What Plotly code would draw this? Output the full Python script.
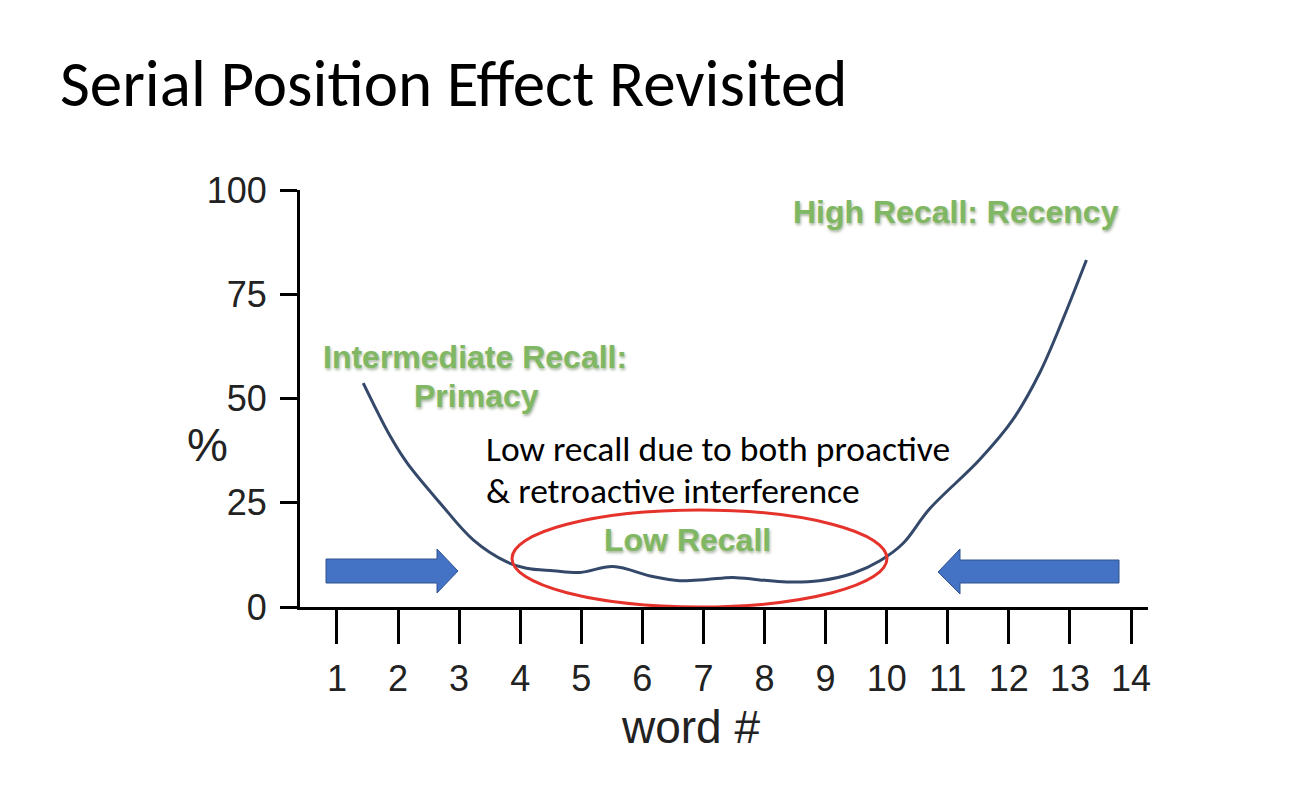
import plotly.graph_objects as go

# ---- data ----
word_pos = [1.43, 1.87, 2.15, 2.69, 3.23, 3.78, 4.1, 4.54, 4.98, 5.52, 6.17, 6.61,
            7.05, 7.48, 7.92, 8.36, 8.9, 9.45, 9.89, 10.27, 10.7, 11.52, 12.06, 12.5, 12.88, 13.27]
recall_pct = [53.7, 41.0, 34.5, 24.9, 16.1, 10.8, 9.3, 8.7, 8.3, 9.7, 7.3, 6.3,
              6.6, 7.1, 6.5, 6.0, 6.3, 8.1, 11.1, 15.3, 23.5, 35.3, 44.8, 56.0, 68.8, 83.2]
x_ticks = list(range(1, 15))
y_ticks = [0, 25, 50, 75, 100]

W, H = 1302, 792
L, R, T, B = 300, 1148, 190, 607   # plot area in pixels
XMIN = 1 - (337 - L) / 61.1
XMAX = 14 + (R - 1131) / 61.1


def dx(px):
    return XMIN + (px - L) / (R - L) * (XMAX - XMIN)


def dy(py):
    return (B - py) / (B - T) * 100


def px_(x):
    return (x - L) / (R - L)


def py_(y):
    return (B - y) / (B - T)


fig = go.Figure()
fig.add_trace(go.Scatter(
    x=word_pos, y=recall_pct, mode="lines",
    line=dict(color="#34486a", width=3, shape="spline"),
    hoverinfo="skip", showlegend=False, cliponaxis=False,
))

shapes = []
# red ellipse
shapes.append(dict(type="circle", xref="x", yref="y",
                   x0=dx(512), x1=dx(887), y0=dy(607), y1=dy(510),
                   line=dict(color="#e5322b", width=3), fillcolor="rgba(0,0,0,0)"))


def arrow_path(points):
    pts = [f"{dx(a)},{dy(b)}" for a, b in points]
    return "M " + " L ".join(pts) + " Z"


right_arrow = [(326, 559), (437, 559), (437, 549), (458, 571), (437, 593), (437, 583), (326, 583)]
left_arrow = [(1119, 560), (960, 560), (960, 549), (938, 572), (960, 594), (960, 583), (1119, 583)]
for pts in (right_arrow, left_arrow):
    shapes.append(dict(type="path", xref="x", yref="y", path=arrow_path(pts),
                       fillcolor="#4472C4", line=dict(color="#2F528F", width=1)))

green = "#80b763"
gfont = dict(family="Liberation Sans, Arial", size=32, color=green,
             weight="bold", shadow="1px 2px 3px rgba(60,90,40,0.45)")
annotations = []


def add_text(text, x, y, font, xanchor="center"):
    annotations.append(dict(text=text, x=px_(x), y=py_(y), xref="paper", yref="paper",
                            xanchor=xanchor, yanchor="middle", showarrow=False, font=font))


add_text("High Recall: Recency", 956, 212, gfont)
add_text("Intermediate Recall:", 475, 357, gfont)
add_text("Primacy", 476, 396, gfont)
add_text("Low Recall", 687, 540, gfont)

bfont = dict(family="Carlito, Lato, sans-serif", size=35.5, color="black")
add_text("Low recall due to both proactive", 484, 449, bfont, xanchor="left")
add_text("&amp; retroactive interference", 484, 491, bfont, xanchor="left")

afont = dict(family="Liberation Sans, Arial", size=46, color="#222")
add_text("%", 207, 445, afont)
add_text("word #", 690, 727, afont)

fig.update_layout(
    width=W, height=H,
    margin=dict(l=L, r=W - R, t=T, b=H - B, pad=0),
    paper_bgcolor="white", plot_bgcolor="white",
    shapes=shapes, annotations=annotations,
    title=dict(text="Serial Position Effect Revisited", x=60 / W, xanchor="left",
               xref="container", y=1 - 83 / H, yanchor="middle", yref="container",
               font=dict(family="Carlito, Lato, sans-serif", size=65, color="black", weight=300)),
    xaxis=dict(range=[XMIN, XMAX], tickvals=x_ticks, ticktext=[str(v) for v in x_ticks],
               showgrid=False, zeroline=False, showline=True, linecolor="black", linewidth=3,
               ticks="outside", ticklen=34, tickwidth=3, tickcolor="black",
               tickfont=dict(family="Liberation Sans, Arial", size=36, color="#222"),
               ticklabelstandoff=4, fixedrange=True),
    yaxis=dict(range=[0, 100], tickvals=y_ticks, ticktext=[str(v) for v in y_ticks],
               showgrid=False, zeroline=False, showline=True, linecolor="black", linewidth=3,
               ticks="outside", ticklen=17, tickwidth=3, tickcolor="black",
               tickfont=dict(family="Liberation Sans, Arial", size=36, color="#222"),
               ticklabelstandoff=6, fixedrange=True),
)

fig.write_html("out.html")
